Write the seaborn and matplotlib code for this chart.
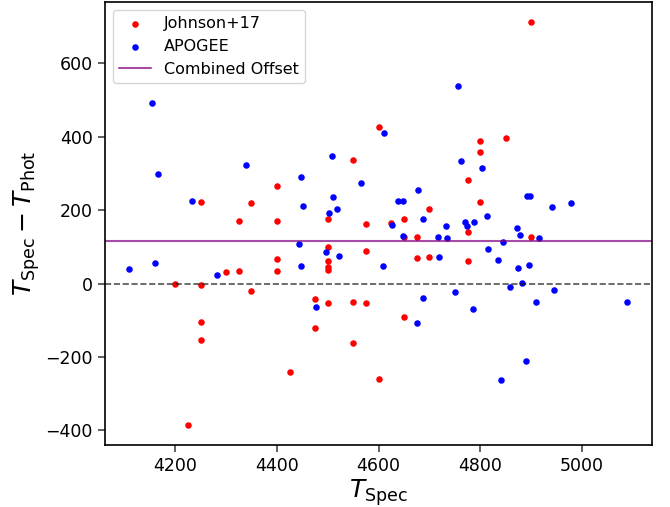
import matplotlib
matplotlib.use("Agg")
import matplotlib.pyplot as plt
import seaborn as sns
import pandas as pd

# Johnson+17 sample
johnson_tspec = [4900, 4600, 4850, 4800, 4800, 4550, 4775, 4400, 4250, 4350,
                 4800, 4700, 4500, 4325, 4400, 4650, 4625, 4575, 4775, 4900,
                 4650, 4675, 4500, 4575, 4675, 4700, 4400, 4775, 4500, 4500,
                 4500, 4325, 4400, 4300, 4200, 4250, 4350, 4475, 4550, 4500,
                 4575, 4650, 4250, 4475, 4250, 4550, 4425, 4600, 4225]
johnson_diff = [714, 428, 396, 388, 358, 336, 282, 266, 222, 220,
                222, 204, 176, 171, 171, 175, 166, 162, 141, 128,
                127, 127, 100, 88, 71, 72, 68, 62, 61, 44,
                37, 35, 35, 31, 0, -5, -19, -42, -49, -52,
                -53, -92, -106, -120, -155, -163, -240, -261, -385]

# APOGEE sample
apogee_tspec = [4155, 4166, 4339, 4447, 4233, 4756, 4611, 4508, 4762, 4803,
                4566, 4678, 4511, 4452, 4638, 4647, 4519, 4502, 4813, 4627,
                4687, 4732, 4769, 4774, 4787, 4891, 4898, 4979, 4941, 4873,
                4878, 4915, 4844, 4816, 4835, 4874, 4896, 4882, 4859, 4945,
                4909, 5088, 4889, 4840, 4443, 4110, 4161, 4283, 4447, 4648,
                4716, 4734, 4497, 4522, 4609, 4719, 4477, 4688, 4750, 4785,
                4675]
apogee_diff = [492, 299, 322, 290, 224, 539, 411, 349, 334, 315,
               273, 256, 236, 211, 225, 225, 204, 192, 184, 159,
               176, 156, 169, 158, 168, 240, 238, 220, 208, 151,
               133, 124, 113, 93, 63, 42, 52, 3, -8, -18,
               -50, -50, -210, -263, 109, 41, 57, 24, 47, 130,
               128, 125, 87, 75, 47, 73, -64, -38, -22, -68,
               -108]

combined_offset = 117

sns.set_theme(style="ticks")
plt.rcParams['font.family'] = ['DejaVu Sans']

df_j = pd.DataFrame({"tspec": johnson_tspec, "diff": johnson_diff})
df_a = pd.DataFrame({"tspec": apogee_tspec, "diff": apogee_diff})

fig, ax = plt.subplots(figsize=(6.7, 5.07), dpi=100)
fig.subplots_adjust(left=0.156, right=0.9727, top=0.997, bottom=0.1223)

sns.scatterplot(data=df_j, x="tspec", y="diff", color="red", s=22,
                linewidth=0, label="Johnson+17", ax=ax)
sns.scatterplot(data=df_a, x="tspec", y="diff", color="blue", s=22,
                linewidth=0, label="APOGEE", ax=ax)
ax.axhline(combined_offset, color="purple", alpha=0.7, lw=1.5,
           label="Combined Offset")
ax.axhline(0, color="k", alpha=0.75, lw=1.2, ls="--")

ax.set_xticks([4200, 4400, 4600, 4800, 5000])
ax.set_yticks([-400, -200, 0, 200, 400, 600])
ax.tick_params(labelsize=12.5, length=5, labelcolor="black", color="0.3")
ax.set_xlabel(r"$T_{\rm Spec}$", fontsize=18, labelpad=2, color="black")
ax.set_ylabel(r"$T_{\rm Spec} - T_{\rm Phot}$", fontsize=18, labelpad=2,
              color="black")
for sp in ax.spines.values():
    sp.set_color("black")
    sp.set_linewidth(1.2)

leg = ax.legend(loc="upper left", fontsize=11.5)
for t in leg.get_texts():
    t.set_color("black")
fig.savefig("out.png", dpi=100)
